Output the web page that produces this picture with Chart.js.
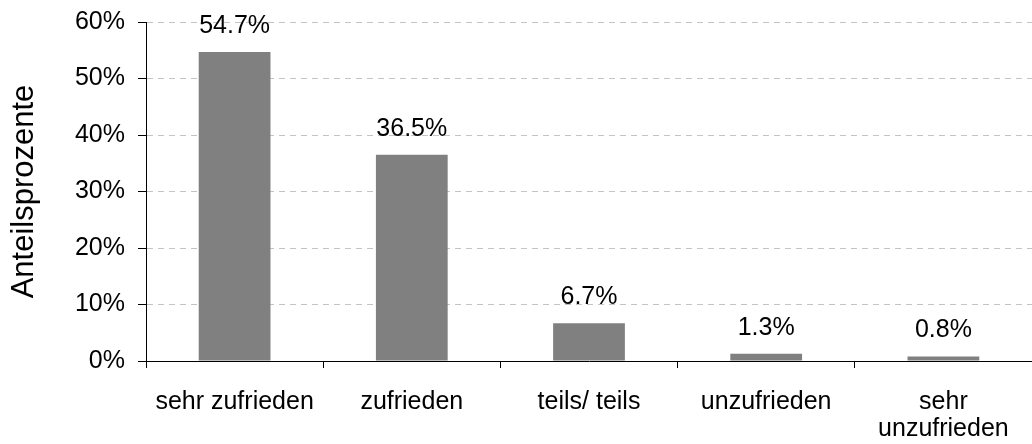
<!DOCTYPE html>
<html>
<head>
<meta charset="utf-8">
<script src="https://cdn.jsdelivr.net/npm/chart.js@4.4.1/dist/chart.umd.min.js"></script>
<style>
  html, body { margin: 0; padding: 0; background: #fff; overflow: hidden; }
  #wrap { width: 1032px; height: 444px; }
</style>
</head>
<body>
<div id="wrap"><canvas id="bar-chart"></canvas></div>
<script>
var categories = ['sehr zufrieden', 'zufrieden', 'teils/ teils', 'unzufrieden', ['sehr', 'unzufrieden']];
var shares = [54.7, 36.5, 6.7, 1.3, 0.8];
var yTicks = [0, 10, 20, 30, 40, 50, 60];
var yTitle = 'Anteilsprozente';

var fontFamily = '"Liberation Sans", Arial, sans-serif';

// labels above bars
var valueLabels = {
    id: 'valueLabels',
    afterDatasetsDraw: function(chart) {
        var ctx = chart.ctx;
        var meta = chart.getDatasetMeta(0);
        ctx.save();
        ctx.font = '25px ' + fontFamily;
        ctx.fillStyle = '#000';
        ctx.textAlign = 'center';
        ctx.textBaseline = 'middle';
        meta.data.forEach(function(bar, i) {
            ctx.fillText(shares[i].toFixed(1) + '%', bar.x, bar.y - 26);
        });
        ctx.restore();
    }
};

function drawChart() {
    return new Chart(document.getElementById('bar-chart'), {
        type: 'bar',
        data: {
            labels: categories,
            datasets: [{
                data: shares,
                backgroundColor: '#808080',
                borderWidth: 0,
                barPercentage: 0.405,
                categoryPercentage: 1
            }]
        },
        options: {
            responsive: true,
            maintainAspectRatio: false,
            animation: false,
            layout: { padding: { top: 22, right: 0, left: 0, bottom: 0 } },
            plugins: {
                legend: { display: false },
                tooltip: { enabled: false }
            },
            scales: {
                x: {
                    offset: true,
                    grid: {
                        offset: true,
                        drawOnChartArea: false,
                        drawTicks: true,
                        tickLength: 7,
                        tickColor: '#000'
                    },
                    border: { color: '#000', width: 1, z: 1 },
                    ticks: {
                        color: '#000',
                        padding: 21,
                        maxRotation: 0,
                        autoSkip: false,
                        font: { family: fontFamily, size: 25, lineHeight: 1.08 }
                    },
                    afterFit: function(scale) {
                        scale.height = 83;
                        scale.paddingLeft = 0;
                        scale.paddingRight = 0;
                    }
                },
                y: {
                    min: 0,
                    max: 60,
                    afterBuildTicks: function(scale) {
                        scale.ticks = yTicks.map(function(v) { return { value: v }; });
                    },
                    grid: {
                        color: function(c) { return c.index === 0 ? 'rgba(0,0,0,0)' : '#c4c4c4'; },
                        tickLength: 8,
                        tickColor: '#000',
                        tickBorderDash: [],
                        tickWidth: 1
                    },
                    border: { color: '#000', width: 1, dash: [6, 5] },
                    ticks: {
                        color: '#000',
                        padding: 13,
                        font: { family: fontFamily, size: 25 },
                        callback: function(v) { return v + '%'; }
                    },
                    title: {
                        display: true,
                        text: yTitle,
                        color: '#000',
                        padding: { top: 6, bottom: 4 },
                        font: { family: fontFamily, size: 31 }
                    },
                    afterFit: function(scale) {
                        scale.width = 146;
                        scale.paddingTop = 0;
                        scale.paddingBottom = 0;
                    }
                }
            }
        },
        plugins: [valueLabels]
    });
}

var chart = drawChart();
</script>
</body>
</html>
